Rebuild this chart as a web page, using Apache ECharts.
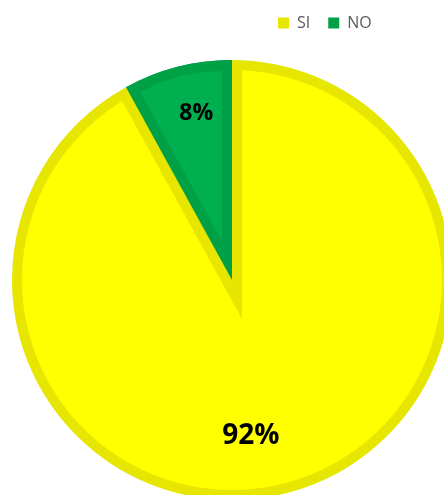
<!DOCTYPE html>
<html>
<head>
<meta charset="utf-8">
<script src="https://cdn.jsdelivr.net/npm/echarts@6/dist/echarts.min.js"></script>
<style>
  html, body { margin: 0; padding: 0; background: #ffffff; }
  #chart { width: 444px; height: 495px; }
</style>
</head>
<body>
<div id="chart"></div>
<script>
// Survey answers
const categories = ['SI', 'NO'];
const values = [92, 8];

// Styling
const fillColors = { SI: '#FFFF00', NO: '#00B050' };
const edgeColors = { SI: '#E6E600', NO: '#00A046' };
const labelSizes = { SI: 28, NO: 23 };
const labelNudge = { SI: [-23, -7], NO: [6, -4] };

// Pie geometry (pixels)
const cx = 232, cy = 280;
const R = 220;        // outer radius
const inset = 10;     // width of the inner border band
const START = 90;     // degrees, first slice starts at 12 o'clock, clockwise

const total = values.reduce((a, b) => a + b, 0);
const CLEAR = 'rgba(0,0,0,0)';

// Geometry of the small slice (NO) so its border band can be drawn inside the slice
const smallIdx = 1;
const before = values.slice(0, smallIdx).reduce((a, b) => a + b, 0);
const startDeg = START - 360 * before / total;
const sweepDeg = 360 * values[smallIdx] / total;
const midRad = (startDeg - sweepDeg / 2) * Math.PI / 180;
const dir = [Math.cos(midRad), -Math.sin(midRad)];
const apexShift = inset / Math.sin(sweepDeg / 2 * Math.PI / 180);
const innerApex = [cx + dir[0] * apexShift, cy + dir[1] * apexShift];   // eroded wedge apex
const outerApex = [cx - dir[0] * apexShift, cy - dir[1] * apexShift];   // dilated wedge apex

function slices(colorOf) {
  return categories.map((name, i) => ({
    name: name,
    value: values[i],
    itemStyle: { color: colorOf(name, i) }
  }));
}

const base = {
  type: 'pie',
  startAngle: START,
  clockwise: true,
  silent: true,
  avoidLabelOverlap: false,
  label: { show: false },
  labelLine: { show: false },
  emphasis: { disabled: true },
  itemStyle: { borderWidth: 0 }
};

const option = {
  animation: false,
  legend: {
    data: categories,
    top: 15,
    left: 278,
    padding: 0,
    itemWidth: 11,
    itemHeight: 11,
    itemGap: 18,
    icon: 'rect',
    selectedMode: false,
    textStyle: {
      color: '#595959',
      fontSize: 16,
      fontFamily: 'Open Sans',
      padding: [0, 0, 0, 3]
    }
  },
  series: [
    // outer rim in border colours
    Object.assign({}, base, {
      name: 'rim', center: [cx, cy], radius: R,
      data: slices(n => edgeColors[n])
    }),
    // large slice interior
    Object.assign({}, base, {
      name: 'fill', center: [cx, cy], radius: R - inset,
      data: slices((n, i) => i === smallIdx ? CLEAR : fillColors[n])
    }),
    // border band of the large slice along the shared edges
    Object.assign({}, base, {
      name: 'band', center: outerApex, radius: R + apexShift - 2,
      data: slices((n, i) => i === smallIdx ? edgeColors[categories[0]] : CLEAR)
    }),
    // small slice in its border colour
    Object.assign({}, base, {
      name: 'smallRim', center: [cx, cy], radius: R,
      data: slices((n, i) => i === smallIdx ? edgeColors[n] : CLEAR)
    }),
    // small slice interior
    Object.assign({}, base, {
      name: 'smallFill', center: innerApex, radius: R - inset - apexShift,
      data: slices((n, i) => i === smallIdx ? fillColors[n] : CLEAR)
    }),
    // percentage labels
    Object.assign({}, base, {
      name: 'labels', center: [cx, cy], radius: [110, R], z: 5,
      data: categories.map((name, i) => ({
        name: name,
        value: values[i],
        itemStyle: { color: CLEAR },
        label: { fontSize: labelSizes[name] }
      })),
      label: {
        show: true,
        position: 'inside',
        formatter: p => Math.round(p.value / total * 100) + '%',
        color: '#000000',
        fontWeight: 'bold',
        fontFamily: 'Open Sans'
      },
      labelLayout: p => {
        const n = labelNudge[categories[p.dataIndex]];
        return { dx: n[0], dy: n[1] };
      }
    })
  ]
};

const chart = echarts.init(document.getElementById('chart'), null, { renderer: 'canvas' });
chart.setOption(option);
</script>
</body>
</html>
